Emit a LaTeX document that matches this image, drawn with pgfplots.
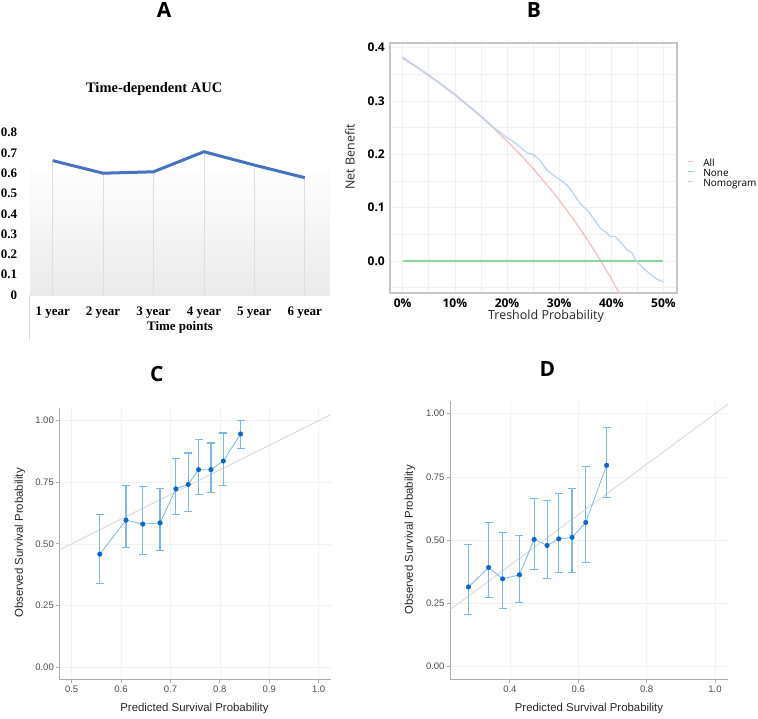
\documentclass[border=0pt]{standalone}
\usepackage{fontspec}
\usepackage{pgfplots}
\usepackage{pgfplotstable}
\pgfplotsset{compat=1.18}
\setmainfont{Liberation Serif}
\newfontfamily\bsans{Open Sans}
\newfontfamily\arial{Liberation Sans}

\definecolor{aucblue}{HTML}{4673C0}
\definecolor{allc}{HTML}{F2C2C0}
\definecolor{nonec}{HTML}{8CD2A2}
\definecolor{nomoc}{HTML}{BDD5EE}
\definecolor{calline}{HTML}{7AB8E6}
\definecolor{calpt}{HTML}{0A68C4}
\definecolor{tickgray}{HTML}{4D4D4D}

\pgfplotsset{/pgf/number format/assume math mode=true}

% calibration data: predicted, observed, upper and lower error
\pgfplotstableread{
x     y     ep    em
0.557 0.458 0.162 0.119
0.610 0.596 0.140 0.112
0.644 0.580 0.154 0.122
0.679 0.585 0.138 0.111
0.711 0.723 0.123 0.103
0.736 0.741 0.128 0.111
0.757 0.801 0.122 0.102
0.782 0.801 0.108 0.093
0.807 0.836 0.114 0.100
0.842 0.946 0.054 0.058
}\calC
\pgfplotstableread{
x     y     ep    em
0.279 0.315 0.167 0.109
0.338 0.392 0.177 0.120
0.379 0.347 0.182 0.117
0.428 0.363 0.154 0.110
0.471 0.503 0.161 0.120
0.509 0.479 0.179 0.129
0.543 0.505 0.180 0.133
0.582 0.511 0.193 0.140
0.622 0.570 0.220 0.158
0.683 0.796 0.149 0.127
}\calD

% calibration panels share one look
\pgfplotsset{calib/.style={
    scale only axis, anchor=south west,
    ymin=-0.05, ymax=1.05,
    ytick={0,0.25,0.5,0.75,1},
    axis x line*=bottom, axis y line*=left,
    axis line style={-, draw=gray!65, line width=1pt},
    tick align=outside, major tick length=3.3pt,
    tick style={gray!65, line width=0.8pt},
    grid=major, grid style={gray!10, line width=0.6pt},
    tick label style={font=\arial\fontsize{9.5}{11}\selectfont, text=tickgray, inner sep=0pt},
    yticklabel style={/pgf/number format/.cd, fixed, fixed zerofill, precision=2, /tikz/.cd, xshift=-2pt},
    xticklabel style={/pgf/number format/.cd, fixed, fixed zerofill, precision=1, /tikz/.cd, yshift=-3.4pt},
    label style={font=\arial\fontsize{11.4}{13}\selectfont, text=black!85},
    xlabel={Predicted Survival Probability},
    ylabel={Observed Survival Probability},
}}
\pgfplotsset{
  calbars/.style={calline, line width=0.8pt, mark=none,
    error bars/y dir=both, error bars/y explicit, error bars/error mark=none,
    error bars/error bar style={draw=calline, line width=1.2pt}},
  calcap/.style={calline, only marks, mark=-, mark size=4pt,
    mark options={calline, line width=1.2pt}, forget plot},
  calpts/.style={only marks, mark=*, mark size=2.3pt,
    mark options={fill=calpt, draw=calpt}},
}

\begin{document}
\begin{tikzpicture}
\useasboundingbox (0,0) rectangle (758pt,-718pt);

% ---------------- A
\begin{axis}[
    at={(30pt,-295pt)}, anchor=south west,
    scale only axis, width=300pt, height=162.4pt,
    xmin=0.55, xmax=6.5, ymin=0, ymax=0.8,
    xtick={1,2,3,4,5,6},
    xticklabels={1 year,2 year,3 year,4 year,5 year,6 year},
    ytick={0,0.1,0.2,0.3,0.4,0.5,0.6,0.7,0.8},
    yticklabels={0,0.1,0.2,0.3,0.4,0.5,0.6,0.7,0.8},
    axis x line*=bottom, axis y line*=left,
    x axis line style={-, draw=gray!30, line width=0.8pt},
    y axis line style={draw=none},
    major tick length=0,
    tick label style={font=\bfseries\fontsize{13}{15}\selectfont, inner sep=0pt},
    xticklabel style={anchor=north, yshift=-11.4pt},
    yticklabel style={anchor=east, xshift=-12.7pt},
    every axis title shift=0pt,
    title={Time-dependent AUC},
    title style={font=\bfseries\fontsize{14.5}{17}\selectfont, at={(axis description cs:0.414,1.267)}, anchor=center},
    xlabel={Time points},
    xlabel style={font=\bfseries\fontsize{13}{15}\selectfont, at={(axis description cs:0.5,0)}, anchor=center, yshift=-32.5pt},
]
\fill[top color=white, bottom color=black!8] (axis cs:0.55,0) rectangle (axis cs:6.5,0.665);
\addplot[ycomb, draw=gray!25, line width=0.8pt, mark=none] coordinates {
    (1,0.662) (2,0.600) (3,0.607) (4,0.706) (5,0.640) (6,0.578)};
\addplot[aucblue, line width=3pt, mark=none] coordinates {
    (1,0.662) (2,0.600) (3,0.607) (4,0.706) (5,0.640) (6,0.578)};
\end{axis}
\draw[gray!30, line width=0.8pt] (29.6pt,-295pt) -- (29.6pt,-340pt);

% ---------------- B
\begin{axis}[
    at={(390pt,-293pt)}, anchor=south west,
    scale only axis, width=287pt, height=250pt,
    xmin=-2.44, xmax=52.6, ymin=-0.06, ymax=0.4088,
    xtick={0,10,20,30,40,50},
    minor xtick={5,15,25,35,45},
    ytick={0,0.1,0.2,0.3,0.4},
    minor ytick={-0.05,0.05,0.15,0.25,0.35},
    grid=both, grid style={gray!12, line width=0.6pt},
    minor grid style={gray!12, line width=0.6pt},
    axis line style={gray!45, line width=1.2pt},
    major tick length=0, minor tick length=0,
    tick label style={font=\bsans\bfseries\fontsize{12}{14}\selectfont, inner sep=0pt},
    xticklabel={\pgfmathprintnumber{\tick}\%},
    xticklabel style={anchor=north, yshift=-6pt},
    yticklabel style={anchor=east, xshift=-5pt,
        /pgf/number format/.cd, fixed, fixed zerofill, precision=1},
    xlabel={Treshold Probability},
    ylabel={Net Benefit},
    label style={font=\bsans\fontsize{12.5}{14}\selectfont, text=black!85},
    xlabel style={at={(axis description cs:0.5436,-0.092)}, anchor=center},
    ylabel style={at={(axis description cs:-0.1394,0.544)}, anchor=center},
    legend style={at={(axis description cs:1.0338,0.5352)}, anchor=north west,
        draw=none, fill=none, inner sep=0pt, column sep=10pt, row sep=1pt,
        font=\bsans\fontsize{10}{12}\selectfont,
        nodes={inner sep=0pt, text height=7pt, text depth=2pt, anchor=west}},
    legend image code/.code={\draw[#1, line width=1.4pt] (0pt,2.5pt) -- (5pt,2.5pt);},
    legend cell align=left,
]
\addplot[allc, line width=1.3pt, mark=none] coordinates {
    (0,0.3800) (2.5,0.3641) (5,0.3474) (7.5,0.3297) (10,0.3111) (12.5,0.2914)
    (15,0.2706) (17.5,0.2485) (20,0.2250) (22.5,0.2000) (25,0.1733) (27.5,0.1448)
    (30,0.1143) (32.5,0.0815) (35,0.0462) (37.5,0.0080) (40,-0.0333) (42,-0.0690)};
\addplot[nonec, line width=1.3pt, mark=none] coordinates {(0,0) (50,0)};
\addplot[nomoc, line width=1.3pt, mark=none] coordinates {
    (0,0.382) (5,0.349) (10,0.313) (15,0.272) (18,0.246) (19.95,0.232)
    (21.9,0.219) (23.8,0.203) (25.1,0.199) (26.3,0.189) (27.6,0.171) (28.9,0.161)
    (30.2,0.152) (31.5,0.1425) (32.7,0.127) (34.0,0.108) (35.3,0.096) (36.6,0.080)
    (37.9,0.061) (39.1,0.053) (39.8,0.046) (40.7,0.046) (42.0,0.033) (43.0,0.021)
    (43.9,0.016) (44.9,-0.001) (46.2,-0.014) (47.4,-0.024) (48.7,-0.034) (50,-0.039)};
\legend{All,None,Nomogram}
\end{axis}

% ---------------- C
\begin{axis}[calib,
    at={(59.3pt,-679.3pt)}, width=271.7pt, height=271pt,
    xmin=0.475, xmax=1.025,
    xtick={0.5,0.6,0.7,0.8,0.9,1.0},
    xlabel style={at={(axis description cs:0.4976,-0.1096)}, anchor=center},
    ylabel style={at={(axis description cs:-0.1446,0.503)}, anchor=center},
]
\addplot[gray!30, line width=0.9pt, mark=none] coordinates {(0.475,0.475) (1.025,1.025)};
\addplot[calbars] table[x=x, y=y, y error plus=ep, y error minus=em] {\calC};
\addplot[calcap] table[x=x, y expr=\thisrow{y}+\thisrow{ep}] {\calC};
\addplot[calcap] table[x=x, y expr=\thisrow{y}-\thisrow{em}] {\calC};
\addplot[calpts] table[x=x, y=y] {\calC};
\end{axis}

% ---------------- D
\begin{axis}[calib,
    at={(450pt,-679.3pt)}, width=277.7pt, height=278.3pt,
    xmin=0.225, xmax=1.037,
    xtick={0.4,0.6,0.8,1.0},
    xlabel style={at={(axis description cs:0.5005,-0.1067)}, anchor=center},
    ylabel style={at={(axis description cs:-0.144,0.5005)}, anchor=center},
]
\addplot[gray!30, line width=0.9pt, mark=none] coordinates {(0.225,0.225) (1.037,1.037)};
\addplot[calbars] table[x=x, y=y, y error plus=ep, y error minus=em] {\calD};
\addplot[calcap] table[x=x, y expr=\thisrow{y}+\thisrow{ep}] {\calD};
\addplot[calcap] table[x=x, y expr=\thisrow{y}-\thisrow{em}] {\calD};
\addplot[calpts] table[x=x, y=y] {\calD};
\end{axis}

% panel letters
\begin{scope}[every node/.style={font=\bsans\bfseries\fontsize{21}{24}\selectfont, inner sep=0pt}]
\node at (164pt,-9.5pt) {A};
\node at (534pt,-10pt) {B};
\node at (156.7pt,-374pt) {C};
\node at (547.5pt,-369pt) {D};
\end{scope}
\end{tikzpicture}
\end{document}
